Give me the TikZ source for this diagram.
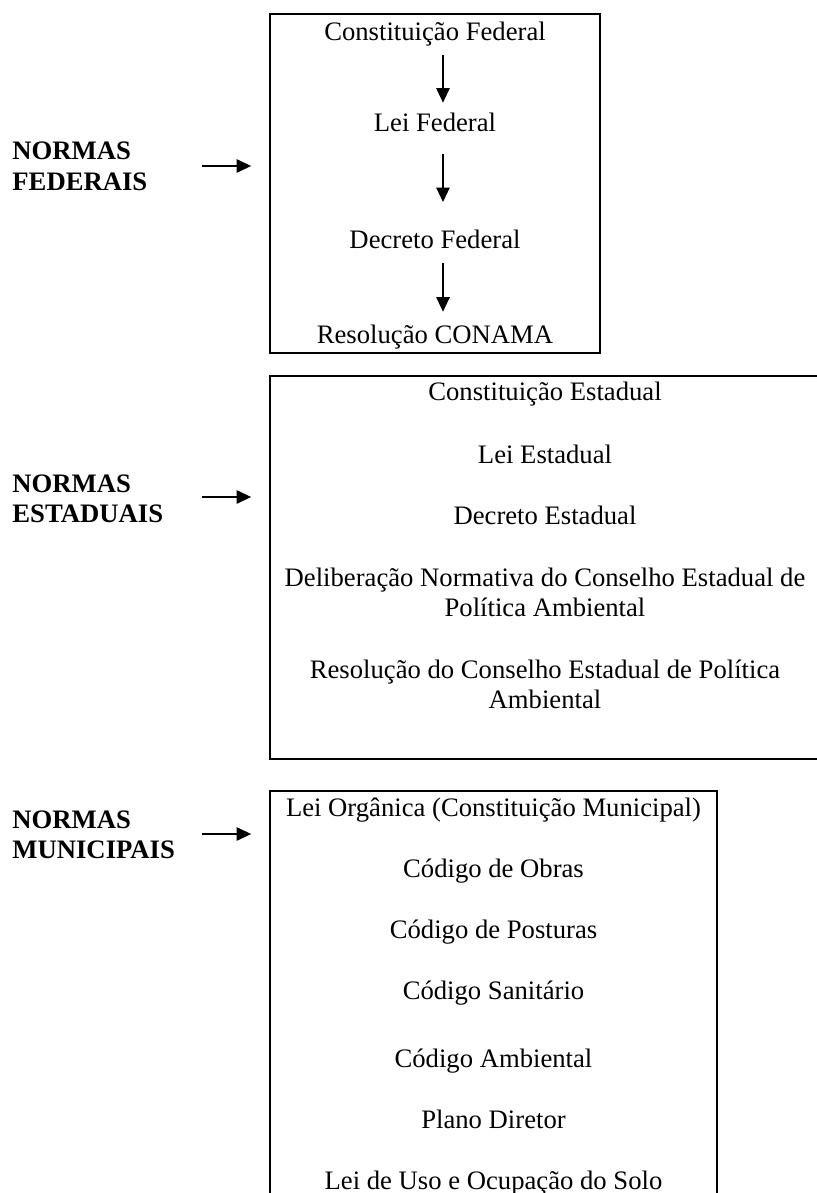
\documentclass[tikz,border=0pt]{standalone}
\usepackage{fontspec}
\setmainfont{Liberation Serif}
\usetikzlibrary{arrows.meta,positioning}

\begin{document}
\begin{tikzpicture}[x=0.45pt,y=-0.45pt,>={Triangle[width=6pt,length=6.5pt]},
		texto/.style={align=center,anchor=base,inner sep=0pt,font=\fontsize{12}{13.3}\selectfont},
		federal/.style={texto,text height=8.5pt,text depth=2.6pt},
		esfera/.style={align=left,anchor=base west,inner sep=0pt,font=\fontsize{12}{13.5}\selectfont\bfseries},
		quadro/.style={draw,line width=1.1pt,outer sep=0pt},
		seta/.style={->,line width=0.7pt}]
		\clip (0,0) rectangle (817,1193);
		% quadros
		\node[quadro,minimum width=330*0.45pt,minimum height=339*0.45pt] (fed) at (435,183.5) {};
		\node[quadro,minimum width=551*0.45pt,minimum height=383*0.45pt] (est) at (545.5,567.5) {};
		\node[quadro,minimum width=447*0.45pt,minimum height=424*0.45pt] (mun) at (493.5,1003) {};
		% normas federais
		\node[federal] (cf) at (435,41) {Constituição Federal};
		\node[federal] (lf) at (435,132) {Lei Federal};
		\node[federal] (df) at (435,248) {Decreto Federal};
		\node[federal] (rc) at (435,343) {Resolução CONAMA};
		\draw[seta,shorten <=3.6pt,shorten >=4.5pt] ([xshift=3.6pt]cf.south) -- ([xshift=3.6pt]lf.north);
		\draw[seta,shorten <=7.3pt,shorten >=12pt] ([xshift=3.6pt]lf.south) -- ([xshift=3.6pt]df.north);
		\draw[seta,shorten <=4.1pt,shorten >=5.4pt] ([xshift=3.6pt]df.south) -- ([xshift=3.6pt]rc.north);
		% normas estaduais (base = ultima linha)
		\node[texto] (ce) at (545,400) {Constituição Estadual};
		\node[texto] (le) at (545,463) {Lei Estadual};
		\node[texto] (de) at (545,524) {Decreto Estadual};
		\node[texto] (dn) at (545,616) {Deliberação Normativa do Conselho Estadual de\\Política Ambiental};
		\node[texto] (rs) at (545,708) {Resolução do Conselho Estadual de Política\\Ambiental};
		% normas municipais
		\node[texto] (lo) at (493.5,816) {Lei Orgânica (Constituição Municipal)};
		\node[texto] (co) at (493.5,877) {Código de Obras};
		\node[texto] (cp) at (493.5,938) {Código de Posturas};
		\node[texto] (cs) at (493.5,999) {Código Sanitário};
		\node[texto] (ca) at (493.5,1067) {Código Ambiental};
		\node[texto] (pd) at (493.5,1128) {Plano Diretor};
		\node[texto] (lu) at (493.5,1189) {Lei de Uso e Ocupação do Solo};
		% rotulos
		\node[esfera] (nfed) at (12,190) {NORMAS\\FEDERAIS};
		\node[esfera] (nest) at (12,522) {NORMAS\\ESTADUAIS};
		\node[esfera] (nmun) at (12,858) {NORMAS\\MUNICIPAIS};
		\coordinate (sfed) at (202,166);
		\coordinate (sest) at (202,497);
		\coordinate (smun) at (202,834);
		\draw[seta,shorten >=8.5pt] (sfed) -- (sfed -| fed.west);
		\draw[seta,shorten >=8.5pt] (sest) -- (sest -| est.west);
		\draw[seta,shorten >=8.5pt] (smun) -- (smun -| mun.west);
\end{tikzpicture}
\end{document}
